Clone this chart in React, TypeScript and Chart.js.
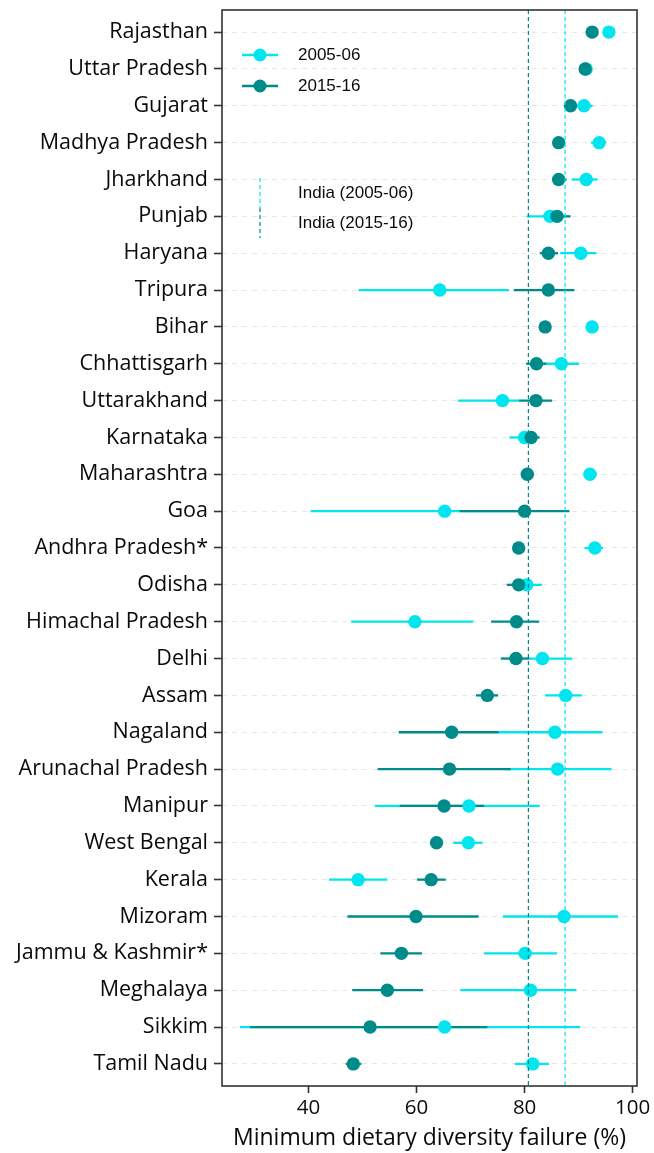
import React, { useEffect, useRef } from "react";
import { Chart, registerables } from "chart.js";

Chart.register(...registerables);

const states = [
  "Rajasthan", "Uttar Pradesh", "Gujarat", "Madhya Pradesh", "Jharkhand", "Punjab", "Haryana",
  "Tripura", "Bihar", "Chhattisgarh", "Uttarakhand", "Karnataka", "Maharashtra", "Goa",
  "Andhra Pradesh*", "Odisha", "Himachal Pradesh", "Delhi", "Assam", "Nagaland",
  "Arunachal Pradesh", "Manipur", "West Bengal", "Kerala", "Mizoram", "Jammu & Kashmir*",
  "Meghalaya", "Sikkim", "Tamil Nadu",
];

// 2005-06 estimates and 95% CI
const est2005 = [95.6, 91.4, 91.0, 93.8, 91.4, 84.7, 90.4, 64.3, 92.5, 86.8, 75.9, 80.0, 92.1, 65.2, 93.0, 80.4, 59.7, 83.3, 87.6, 85.6, 86.1, 69.7, 69.6, 49.2, 87.3, 80.1, 81.1, 65.2, 81.5];
const lo2005 = [94.8, 90.6, 89.5, 92.3, 88.7, 80.4, 86.6, 49.3, 91.6, 83.5, 67.7, 77.2, 90.9, 40.4, 91.1, 77.5, 47.9, 80.9, 83.8, 75.0, 76.5, 52.3, 66.8, 43.8, 76.0, 72.5, 68.1, 27.3, 78.2];
const hi2005 = [96.4, 92.2, 92.6, 95.1, 93.5, 87.5, 93.3, 77.1, 93.4, 90.1, 79.1, 82.5, 93.4, 80.0, 94.5, 83.2, 70.5, 88.8, 90.6, 94.4, 96.1, 82.8, 72.2, 54.6, 97.3, 86.0, 89.6, 90.3, 84.5];

// 2015-16 estimates and 95% CI
const est2015 = [92.5, 91.2, 88.5, 86.3, 86.3, 86.0, 84.4, 84.4, 83.8, 82.2, 82.1, 81.2, 80.5, 80.0, 78.9, 78.9, 78.5, 78.4, 73.1, 66.5, 66.1, 65.1, 63.7, 62.7, 59.9, 57.2, 54.6, 51.4, 48.3];
const lo2015 = [91.8, 90.5, 87.8, 85.6, 85.1, 84.0, 82.8, 78.0, 83.1, 80.3, 79.0, 80.0, 79.9, 68.0, 78.2, 76.7, 73.8, 75.6, 71.0, 56.7, 52.8, 56.9, 62.6, 60.1, 47.2, 53.3, 48.1, 29.2, 46.9];
const hi2015 = [93.2, 91.9, 89.2, 87.0, 87.8, 88.5, 86.2, 89.2, 84.5, 84.0, 85.1, 82.8, 81.1, 88.3, 79.6, 80.0, 82.7, 80.9, 75.1, 75.2, 77.4, 72.5, 64.9, 65.4, 71.5, 61.0, 61.2, 73.1, 49.8];

const india2005 = 87.5;
const india2015 = 80.7;
const xTicks = [40, 60, 80, 100];
const xMin = 24;
const xMax = 100.8;

const CYAN = "#00E5EE";
const TEAL = "#008B8B";
const TEXT = "#0A0A0A";
const LABEL_FONT = "'Open Sans', 'Noto Sans', sans-serif";
const LEGEND_FONT = "'Liberation Sans', Arial, sans-serif";

export default function App() {
  const ref = useRef<HTMLCanvasElement>(null);

  useEffect(() => {
    document.body.style.margin = "0";
    if (!ref.current) return;

    const errorBars = {
      id: "errorBars",
      beforeDatasetsDraw(chart: any) {
        const { ctx, scales } = chart;
        const x = scales.x;
        const y = scales.y;
        ctx.save();
        ctx.lineWidth = 2.3;
        ctx.lineCap = "butt";
        const draw = (lo: number[], hi: number[], color: string) => {
          ctx.strokeStyle = color;
          states.forEach((_, i) => {
            const py = y.getPixelForValue(i);
            ctx.beginPath();
            ctx.moveTo(x.getPixelForValue(lo[i]), py);
            ctx.lineTo(x.getPixelForValue(hi[i]), py);
            ctx.stroke();
          });
        };
        draw(lo2005, hi2005, CYAN);
        draw(lo2015, hi2015, TEAL);
        ctx.restore();
      },
    };

    const overlay = {
      id: "overlay",
      afterDatasetsDraw(chart: any) {
        const { ctx, chartArea, scales } = chart;
        const x = scales.x;
        ctx.save();
        ctx.lineWidth = 1.2;
        ctx.setLineDash([4, 3]);
        [[india2015, TEAL], [india2005, CYAN]].forEach(([v, c]) => {
          const px = x.getPixelForValue(v as number);
          ctx.strokeStyle = c as string;
          ctx.beginPath();
          ctx.moveTo(px, chartArea.top);
          ctx.lineTo(px, chartArea.bottom);
          ctx.stroke();
        });
        ctx.restore();
      },
      afterDraw(chart: any) {
        const { ctx, chartArea } = chart;
        ctx.save();
        // panel border
        ctx.strokeStyle = "#333333";
        ctx.lineWidth = 1.6;
        ctx.setLineDash([]);
        ctx.strokeRect(chartArea.left, chartArea.top, chartArea.right - chartArea.left, chartArea.bottom - chartArea.top);

        // legend
        const lx = chartArea.left + 38;
        const tx = chartArea.left + 76;
        ctx.font = `17px ${LEGEND_FONT}`;
        ctx.textBaseline = "middle";
        ctx.textAlign = "left";
        const entries: [string, string, number][] = [
          ["2005-06", CYAN, 55],
          ["2015-16", TEAL, 86],
        ];
        entries.forEach(([label, color, yy]) => {
          ctx.strokeStyle = color;
          ctx.fillStyle = color;
          ctx.lineWidth = 2.3;
          ctx.beginPath();
          ctx.moveTo(lx - 18, yy);
          ctx.lineTo(lx + 18, yy);
          ctx.stroke();
          ctx.beginPath();
          ctx.arc(lx, yy, 6.5, 0, Math.PI * 2);
          ctx.fill();
          ctx.fillStyle = TEXT;
          ctx.fillText(label, tx, yy);
        });
        const lineEntries: [string, string, number][] = [
          ["India (2005-06)", CYAN, 193],
          ["India (2015-16)", TEAL, 223],
        ];
        lineEntries.forEach(([label, color, yy]) => {
          ctx.strokeStyle = color;
          ctx.lineWidth = 1.2;
          ctx.setLineDash([4, 3]);
          ctx.beginPath();
          ctx.moveTo(lx, yy - 15);
          ctx.lineTo(lx, yy + 15);
          ctx.stroke();
          ctx.setLineDash([]);
          ctx.fillStyle = TEXT;
          ctx.fillText(label, tx, yy);
        });
        ctx.restore();
      },
    };

    const chart = new Chart(ref.current, {
      type: "scatter",
      data: {
        datasets: [
          {
            label: "2015-16",
            data: est2015.map((v, i) => ({ x: v, y: i })),
            backgroundColor: TEAL,
            borderWidth: 0,
            pointRadius: 6.7,
            pointHoverRadius: 6.7,
          },
          {
            label: "2005-06",
            data: est2005.map((v, i) => ({ x: v, y: i })),
            backgroundColor: CYAN,
            borderWidth: 0,
            pointRadius: 6.7,
            pointHoverRadius: 6.7,
          },
        ],
      },
      options: {
        animation: false,
        responsive: true,
        maintainAspectRatio: false,
        layout: { padding: { left: 0, right: 17, top: 10, bottom: 0 } },
        plugins: {
          legend: { display: false },
          tooltip: { enabled: false },
        },
        scales: {
          x: {
            type: "linear",
            min: xMin,
            max: xMax,
            afterBuildTicks: (s: any) => {
              s.ticks = xTicks.map((v) => ({ value: v }));
            },
            afterFit: (s: any) => {
              s.height = 67;
              s.paddingLeft = 0;
              s.paddingRight = 0;
            },
            grid: {
              drawOnChartArea: false,
              drawTicks: true,
              tickLength: 7,
              tickColor: "#333333",
              tickWidth: 1.6,
            },
            border: { display: false },
            ticks: {
              font: { family: LABEL_FONT, size: 20.5 },
              color: TEXT,
              padding: 3,
              maxRotation: 0,
            },
            title: {
              display: true,
              text: "Minimum dietary diversity failure (%)",
              font: { family: LABEL_FONT, size: 23 },
              color: TEXT,
              padding: { top: 0, bottom: 1 },
            },
          },
          y: {
            type: "linear",
            reverse: true,
            min: -0.6,
            max: states.length - 1 + 0.6,
            afterBuildTicks: (s: any) => {
              s.ticks = states.map((_, i) => ({ value: i }));
            },
            afterFit: (s: any) => {
              s.width = 222;
              s.paddingTop = 0;
              s.paddingBottom = 0;
            },
            grid: {
              color: "#E6E6E6",
              lineWidth: 1,
              drawTicks: true,
              tickLength: 8,
              tickColor: "#333333",
              tickWidth: 1.6,
            },
            border: { display: false, dash: [5, 5] },
            ticks: {
              autoSkip: false,
              font: { family: LABEL_FONT, size: 21.5 },
              color: TEXT,
              padding: 6,
              callback: (v: any) => states[Math.round(Number(v))] ?? "",
            },
          },
        },
      },
      plugins: [errorBars, overlay],
    });

    return () => chart.destroy();
  }, []);

  return (
    <div style={{ position: "relative", width: "654px", height: "1153px" }}>
      <canvas ref={ref} />
    </div>
  );
}
